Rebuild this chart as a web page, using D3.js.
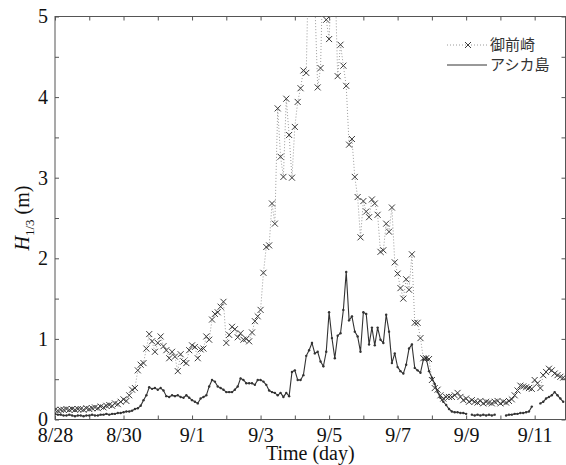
<!DOCTYPE html>
<html>
<head>
<meta charset="utf-8">
<script src="https://cdn.jsdelivr.net/npm/d3@7"></script>
<style>
  body { margin: 0; background: #fff; }
</style>
</head>
<body>
<div class="chart"></div>
<script>
var svgWidth = 566;
var svgHeight = 465;

var margin = { top: 16.5, right: 0.5, bottom: 45.5, left: 55 };
var width = svgWidth - margin.left - margin.right;
var height = svgHeight - margin.top - margin.bottom;

// data: 2-hourly values starting 8/28 00:00
var stepDays = 2 / 24;
var tickLabels = ["8/28", "8/30", "9/1", "9/3", "9/5", "9/7", "9/9", "9/11"];
var seriesNames = ["御前崎", "アシカ島"];

var omaezaki = [
  0.12, 0.11, 0.12, 0.12, 0.13, 0.12, 0.13, 0.12, 0.13, 0.13,
  0.12, 0.14, 0.13, 0.14, 0.15, 0.14, 0.16, 0.15, 0.17, 0.18,
  0.17, 0.20, 0.19, 0.22, 0.25, 0.23, 0.30, 0.37, 0.39, 0.61,
  0.68, 0.70, 0.88, 1.06, 0.97, 0.84, 0.95, 1.03, 0.91, 0.86,
  0.76, 0.84, 0.78, 0.60, 0.81, 0.72, 0.70, 0.86, 0.92, 0.90,
  0.76, 0.87, 0.88, 1.03, 0.99, 1.24, 1.31, 1.33, 1.40, 1.46,
  0.95, 1.05, 1.15, 1.12, 1.02, 1.07, 0.99, 1.00, 0.97, 1.08,
  1.22, 1.28, 1.36, 1.82, 2.14, 2.16, 2.68, 2.43, 3.86, 3.26,
  3.01, 3.98, 3.53, 3.00, 3.63, 3.94, 4.11, 4.33, 4.30, 6.00,
  5.60, 5.20, 4.12, 4.36, 5.80, 4.96, 4.72, 5.50, 5.60, 4.26,
  4.65, 4.39, 4.14, 3.41, 3.48, 3.01, 2.76, 2.26, 2.71, 2.58,
  2.51, 2.73, 2.68, 2.54, 2.08, 2.10, 2.43, 2.33, 2.63, 1.95,
  1.81, 1.63, 1.50, 1.74, 1.61, 2.05, 1.20, 1.20, 1.01, 0.76,
  0.76, 0.75, 0.49, 0.39, 0.37, 0.30, 0.26, 0.28, 0.28, 0.28,
  0.30, 0.33, 0.28, 0.24, 0.26, 0.22, 0.24, 0.22, 0.21, 0.23,
  0.20, 0.22, 0.21, 0.20, 0.22, 0.23, 0.20, 0.22, 0.21, 0.23,
  0.25, 0.30, 0.36, 0.42, 0.41, 0.40, 0.39, 0.38, 0.49, 0.45,
  0.39, 0.55, 0.59, 0.63, 0.61, 0.57, 0.55, 0.53, 0.52
];

var ashika = [
  0.07, 0.06, 0.06, 0.05, 0.05, 0.06, 0.05, 0.04, 0.05, 0.05,
  0.04, 0.05, 0.05, 0.06, 0.05, 0.05, 0.06, 0.06, 0.07, 0.06,
  0.07, 0.07, 0.08, 0.08, 0.09, 0.10, 0.10, 0.11, 0.13, 0.14,
  0.17, 0.24, 0.30, 0.40, 0.38, 0.39, 0.37, 0.39, 0.36, 0.29,
  0.28, 0.30, 0.29, 0.30, 0.28, 0.27, 0.30, 0.27, 0.24, 0.22,
  0.20, 0.26, 0.28, 0.30, 0.41, 0.49, 0.47, 0.41, 0.39, 0.37,
  0.34, 0.34, 0.34, 0.37, 0.41, 0.51, 0.49, 0.45, 0.45, 0.45,
  0.43, 0.49, 0.49, 0.47, 0.43, 0.36, 0.34, 0.33, 0.30, 0.33,
  0.28, 0.33, 0.29, 0.59, 0.61, 0.49, 0.49, 0.55, 0.79, 0.86,
  0.95, 0.82, 0.84, 0.72, 0.66, 0.84, 1.33, 1.01, 0.76, 1.04,
  1.07, 1.36, 1.83, 1.23, 1.28, 1.09, 1.03, 0.84, 1.33, 1.31,
  0.93, 1.14, 0.92, 1.14, 0.99, 0.95, 1.30, 1.09, 0.70, 0.82,
  0.65, 0.60, 0.57, 0.68, 0.88, 0.93, 0.64, 0.61, 0.58, 0.74,
  0.76, 0.60, 0.52, 0.44, 0.34, 0.27, 0.22, 0.18, 0.13, 0.10,
  0.09, 0.09, 0.08, 0.08, 0.07, null, 0.06, 0.05, 0.06, 0.05,
  0.06, 0.05, 0.06, 0.05, 0.06, null, null, null, 0.05, 0.06,
  0.06, 0.07, 0.07, 0.08, 0.08, 0.09, 0.10, 0.16, null, null,
  0.20, 0.22, 0.26, 0.28, 0.30, 0.34, 0.30, 0.26, 0.22
];

var omaData = omaezaki.map((v, i) => ({ t: i * stepDays, v: v }));
var ashData = ashika.map((v, i) => ({ t: i * stepDays, v: v }));

var svg = d3.select(".chart")
  .append("svg")
  .attr("width", svgWidth)
  .attr("height", svgHeight)
  .style("font-family", "'Liberation Serif', 'Times New Roman', serif");

var chartGroup = svg.append("g")
  .attr("transform", `translate(${margin.left}, ${margin.top})`);

var xScale = d3.scaleLinear().domain([0, 14.9]).range([0, width]);
var yScale = d3.scaleLinear().domain([0, 5]).range([height, 0]);

svg.append("defs").append("clipPath").attr("id", "plotClip")
  .append("rect").attr("width", width).attr("height", height);

// axes, ticks pointing inwards on all four sides
var dayTicks = d3.range(0, 15);
var yTicks = d3.range(0, 5.01, 0.5);

var bottomAxis = d3.axisBottom(xScale).tickValues(dayTicks).tickSize(-4).tickPadding(8)
  .tickFormat(d => d % 2 === 0 ? tickLabels[d / 2] : "");
var topAxis = d3.axisTop(xScale).tickValues(dayTicks).tickSize(-4).tickFormat("");
var leftAxis = d3.axisLeft(yScale).tickValues(yTicks).tickSize(-4).tickPadding(7)
  .tickFormat(d => Number.isInteger(d) ? d : "");
var rightAxis = d3.axisRight(yScale).tickValues(yTicks).tickSize(-4).tickFormat("");

var axes = [
  chartGroup.append("g").attr("transform", `translate(0, ${height})`).call(bottomAxis),
  chartGroup.append("g").call(topAxis),
  chartGroup.append("g").call(leftAxis),
  chartGroup.append("g").attr("transform", `translate(${width}, 0)`).call(rightAxis)
];
axes.forEach(function(g) {
  g.select(".domain").remove();
  g.selectAll("line").attr("stroke", "#555");
  g.selectAll("text")
    .attr("fill", "#111")
    .style("font-size", "20px")
    .style("font-family", "'Liberation Serif', 'Times New Roman', serif");
});

chartGroup.append("rect")
  .attr("width", width)
  .attr("height", height)
  .attr("fill", "none")
  .attr("stroke", "#555")
  .attr("stroke-width", 1);

var plot = chartGroup.append("g").attr("clip-path", "url(#plotClip)");

var line = d3.line()
  .defined(d => d.v !== null)
  .x(d => xScale(d.t))
  .y(d => yScale(d.v));

// 御前崎: dotted line with x markers
plot.append("path")
  .datum(omaData)
  .attr("fill", "none")
  .attr("stroke", "#9a9a9a")
  .attr("stroke-width", 1)
  .attr("stroke-dasharray", "1,2")
  .attr("d", line);

var crossPath = "M-3,-3L3,3M-3,3L3,-3";
plot.selectAll(".cross")
  .data(omaData)
  .enter()
  .append("path")
  .attr("class", "cross")
  .attr("transform", d => `translate(${xScale(d.t)}, ${yScale(d.v)})`)
  .attr("d", crossPath)
  .attr("fill", "none")
  .attr("stroke", "#3a3a3a")
  .attr("stroke-width", 1);

// アシカ島: solid line with small dots
plot.append("path")
  .datum(ashData)
  .attr("fill", "none")
  .attr("stroke", "#333")
  .attr("stroke-width", 1.1)
  .attr("d", line);

plot.selectAll(".dot")
  .data(ashData.filter(d => d.v !== null))
  .enter()
  .append("circle")
  .attr("class", "dot")
  .attr("cx", d => xScale(d.t))
  .attr("cy", d => yScale(d.v))
  .attr("r", 1.2)
  .attr("fill", "#333");

// legend
var rowGap = 20;
var legend = svg.append("g").attr("transform", "translate(447, 45)");
legend.append("line")
  .attr("x1", 0).attr("x2", 40).attr("y1", 0).attr("y2", 0)
  .attr("stroke", "#9a9a9a").attr("stroke-dasharray", "1,2");
legend.append("path")
  .attr("transform", "translate(21, 0)")
  .attr("d", crossPath)
  .attr("fill", "none")
  .attr("stroke", "#3a3a3a");
legend.append("line")
  .attr("x1", 0).attr("x2", 40).attr("y1", rowGap).attr("y2", rowGap)
  .attr("stroke", "#333");
legend.selectAll(".legText")
  .data(seriesNames)
  .enter()
  .append("text")
  .attr("class", "legText")
  .attr("x", 43)
  .attr("y", (d, i) => i * rowGap)
  .attr("dy", "0.35em")
  .attr("fill", "#333")
  .style("font-family", "'Noto Sans CJK JP', sans-serif")
  .style("font-size", "15px")
  .text(d => d);

// axis titles
svg.append("text")
  .attr("x", margin.left + width / 2)
  .attr("y", 460)
  .attr("text-anchor", "middle")
  .attr("fill", "#111")
  .style("font-size", "20px")
  .text("Time (day)");

var yTitle = svg.append("text")
  .attr("transform", "rotate(-90)")
  .attr("x", -(margin.top + height / 2))
  .attr("y", 29)
  .attr("text-anchor", "middle")
  .attr("fill", "#111")
  .style("font-size", "20px");
yTitle.append("tspan").style("font-style", "italic").text("H");
yTitle.append("tspan").attr("dy", 5).style("font-size", "13px").text("1/3");
yTitle.append("tspan").attr("dy", -5).text(" (m)");
</script>
</body>
</html>
